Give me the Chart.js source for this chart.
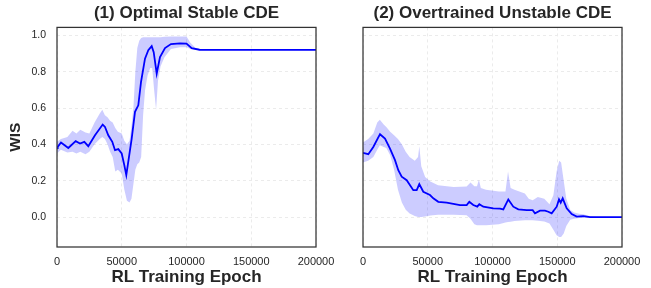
<!DOCTYPE html>
<html>
<head>
<meta charset="utf-8">
<script src="https://cdn.jsdelivr.net/npm/chart.js@4/dist/chart.umd.min.js"></script>
<style>
  body { margin: 0; background: #fff; }
  #wrap { position: relative; width: 651px; height: 288px; overflow: hidden; }
  canvas { position: absolute; top: 0; }
</style>
</head>
<body>
<div id="wrap">
  <canvas id="left" width="345" height="288" style="left:0"></canvas>
  <canvas id="right" width="321" height="288" style="left:330px"></canvas>
</div>
<script>
"use strict";

// shared ticks
const xTicks = [0, 50000, 100000, 150000, 200000];
const yTicks = [0.0, 0.2, 0.4, 0.6, 0.8, 1.0];

// (1) Optimal Stable CDE - mean curve
const epochs1 = [0, 540, 3090, 8730, 14440, 17760, 21080, 24170, 29340, 35290, 37070, 39610, 42700,
  44790, 47340, 49960, 51970, 53510, 55600, 57680, 60230, 62780, 64860, 67950, 70500, 73130,
  74670, 76990, 79540, 83400, 88000, 95000, 100000, 104000, 110000, 200000];
const mean1 = [0.38, 0.386, 0.41, 0.38, 0.418, 0.405, 0.414, 0.39, 0.45, 0.509, 0.496, 0.45, 0.414,
  0.368, 0.374, 0.35, 0.286, 0.231, 0.331, 0.432, 0.579, 0.615, 0.743, 0.872, 0.918, 0.941,
  0.908, 0.79, 0.881, 0.93, 0.952, 0.956, 0.955, 0.93, 0.921, 0.92];

// (1) band
const bandEpochs1 = [0, 3000, 8000, 12000, 15000, 18000, 22000, 25000, 29000, 33000, 35000, 37000,
  39000, 41000, 43000, 45000, 47000, 50000, 52000, 54000, 56000, 57500, 59000, 60500, 62000,
  63500, 65000, 66500, 68000, 70000, 72000, 73500, 75000, 76500, 78000, 80000, 83000, 88000,
  95000, 100000, 103000, 107000, 112000, 200000];
const lower1 = [0.35, 0.37, 0.355, 0.36, 0.35, 0.36, 0.345, 0.36, 0.40, 0.43, 0.44, 0.43,
  0.40, 0.36, 0.33, 0.25, 0.26, 0.24, 0.15, 0.09, 0.08, 0.10, 0.18, 0.26, 0.29,
  0.30, 0.33, 0.56, 0.70, 0.78, 0.82, 0.82, 0.70, 0.59, 0.75, 0.83, 0.88, 0.925,
  0.935, 0.935, 0.925, 0.92, 0.918, 0.918];
const upper1 = [0.415, 0.43, 0.44, 0.475, 0.46, 0.48, 0.465, 0.46, 0.52, 0.57, 0.59, 0.56,
  0.55, 0.53, 0.52, 0.49, 0.47, 0.46, 0.42, 0.40, 0.42, 0.50, 0.60, 0.80, 0.93,
  0.97, 0.985, 0.99, 0.99, 0.99, 0.99, 0.99, 0.99, 0.99, 0.99, 0.99, 0.993, 0.994,
  0.994, 0.994, 0.96, 0.93, 0.922, 0.922];

// (2) Overtrained Unstable CDE - mean curve
const epochs2 = [0, 4090, 7950, 13130, 16990, 20850, 24710, 27260, 29880, 33750, 38840, 41470,
  43470, 46560, 51740, 54290, 58150, 64630, 74900, 80080, 82080, 85170, 88260, 89810, 92900,
  100620, 105790, 108340, 112200, 116060, 119920, 126410, 131040, 132820, 136680, 140540,
  143090, 145710, 149580, 151350, 152660, 154210, 157300, 161160, 165020, 170120, 175290, 200000];
const mean2 = [0.353, 0.346, 0.386, 0.456, 0.432, 0.377, 0.313, 0.258, 0.222, 0.203, 0.148, 0.148,
  0.181, 0.139, 0.121, 0.103, 0.084, 0.079, 0.066, 0.066, 0.084, 0.066, 0.057, 0.071, 0.057,
  0.048, 0.046, 0.042, 0.097, 0.057, 0.042, 0.038, 0.038, 0.02, 0.035, 0.035,
  0.029, 0.02, 0.057, 0.097, 0.079, 0.103, 0.048, 0.016, 0.002, 0.005, 0.0, 0.0];

// (2) band
const bandEpochs2 = [0, 4000, 8000, 11000, 13000, 16000, 18000, 21000, 24000, 27000, 30000, 33000,
  36000, 40000, 42500, 43500, 45000, 48000, 52000, 58000, 70000, 80000, 83000, 86000, 88000,
  89500, 91000, 95000, 105000, 110000, 112000, 114000, 117000, 125000, 128000, 131000, 135000,
  140000, 144000, 147000, 149500, 151500, 153000, 155000, 157000, 160000, 163000, 167000,
  170000, 175000, 180000, 200000];
const lower2 = [0.30, 0.31, 0.33, 0.37, 0.395, 0.385, 0.38, 0.34, 0.26, 0.15, 0.08, 0.04,
  0.02, 0.005, 0.0, 0.0, 0.0, 0.003, 0.008, 0.012, 0.013, 0.01, -0.01, -0.04, -0.045,
  -0.045, -0.045, -0.045, -0.04, -0.03, -0.028, -0.026, -0.022, -0.018, -0.018, -0.018, -0.02,
  -0.025, -0.035, -0.07, -0.10, -0.11, -0.11, -0.09, -0.05, -0.015, -0.01, -0.005,
  -0.003, -0.001, 0.0, 0.0];
const upper2 = [0.41, 0.43, 0.46, 0.52, 0.535, 0.51, 0.495, 0.47, 0.45, 0.43, 0.40, 0.36,
  0.33, 0.31, 0.33, 0.39, 0.28, 0.22, 0.195, 0.175, 0.165, 0.168, 0.19, 0.17, 0.17,
  0.205, 0.16, 0.15, 0.14, 0.14, 0.25, 0.16, 0.15, 0.13, 0.10, 0.093, 0.11,
  0.10, 0.07, 0.12, 0.25, 0.31, 0.30, 0.20, 0.10, 0.04, 0.025, 0.018,
  0.015, 0.005, 0.001, 0.0];

const TEXT = "#262626";
const FONT = "'Liberation Sans', Arial, sans-serif";

const pts = (xs, ys) => xs.map((x, i) => ({ x: x, y: ys[i] }));

const framePlugin = {
  id: "frame",
  afterDraw: (chart) => {
    const { ctx, chartArea } = chart;
    ctx.save();
    ctx.strokeStyle = "#333333";
    ctx.lineWidth = 1.25;
    ctx.strokeRect(chartArea.left, chartArea.top, chartArea.right - chartArea.left, chartArea.bottom - chartArea.top);
    ctx.restore();
  },
};

const makePanel = (canvasId, title, ex, ey, bx, lo, up, isLeft) => {
  const ctx = document.getElementById(canvasId).getContext("2d");
  new Chart(ctx, {
    type: "line",
    data: {
      datasets: [
        {
          data: pts(ex, ey),
          borderColor: "#0000ff",
          borderWidth: 1.8,
          pointRadius: 0,
          tension: 0,
          fill: false,
        },
        {
          data: pts(bx, lo),
          borderWidth: 0,
          borderColor: "rgba(0,0,0,0)",
          pointRadius: 0,
          tension: 0,
          fill: false,
        },
        {
          data: pts(bx, up),
          borderWidth: 0,
          borderColor: "rgba(0,0,0,0)",
          backgroundColor: "rgba(0, 0, 255, 0.2)",
          pointRadius: 0,
          tension: 0,
          fill: "-1",
        },
      ],
    },
    options: {
      responsive: false,
      animation: false,
      devicePixelRatio: 1,
      layout: { padding: { left: 0, right: 29, top: 0, bottom: 0 } },
      plugins: {
        legend: { display: false },
        tooltip: { enabled: false },
        title: {
          display: true,
          text: title,
          fullSize: false,
          color: TEXT,
          font: { family: FONT, size: 17, weight: "bold", lineHeight: 1.2 },
          padding: { top: 3, bottom: 4 },
        },
      },
      scales: {
        x: {
          type: "linear",
          min: 0,
          max: 200000,
          afterBuildTicks: (s) => { s.ticks = xTicks.map((v) => ({ value: v })); },
          afterFit: (s) => { s.height = 41; },
          ticks: {
            autoSkip: false,
            maxRotation: 0,
            padding: 8,
            color: TEXT,
            font: { family: FONT, size: 11 },
            callback: (v) => String(v),
          },
          grid: { color: "#ebebeb", drawTicks: false },
          border: { display: false, dash: [3, 3] },
          title: {
            display: true,
            text: "RL Training Epoch",
            color: TEXT,
            font: { family: FONT, size: 17, weight: "bold", lineHeight: 1.2 },
            padding: { top: 2, bottom: 0 },
          },
        },
        y: {
          type: "linear",
          min: -0.165,
          max: 1.044,
          afterBuildTicks: (s) => { s.ticks = yTicks.map((v) => ({ value: v })); },
          afterFit: (s) => { s.width = isLeft ? 57 : 33; },
          ticks: {
            display: isLeft,
            padding: 11,
            color: TEXT,
            font: { family: FONT, size: 10.5 },
            callback: (v) => v.toFixed(1),
          },
          grid: { color: "#ebebeb", drawTicks: false },
          border: { display: false, dash: [3, 3] },
          title: {
            display: isLeft,
            text: "WIS",
            color: TEXT,
            font: { family: FONT, size: 15.5, weight: "bold" },
            padding: { top: 6, bottom: 0 },
          },
        },
      },
    },
    plugins: [framePlugin],
  });
};

makePanel("left", "(1) Optimal Stable CDE", epochs1, mean1, bandEpochs1, lower1, upper1, true);
makePanel("right", "(2) Overtrained Unstable CDE", epochs2, mean2, bandEpochs2, lower2, upper2, false);
</script>
</body>
</html>
